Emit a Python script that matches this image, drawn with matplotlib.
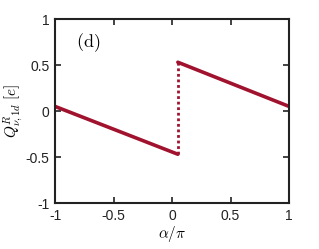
import matplotlib
matplotlib.use("Agg")
import matplotlib.pyplot as plt

plt.rcParams['mathtext.fontset'] = 'cm'
plt.rcParams['font.family'] = ['Liberation Sans', 'DejaVu Sans']

# data
left_x = [-1.0, 0.05]
left_y = [0.05, -0.47]
right_x = [0.05, 1.0]
right_y = [0.53, 0.05]
jump_x = [0.05, 0.05]
jump_y = [-0.47, 0.53]
xticks = [-1, -0.5, 0, 0.5, 1]
yticks = [-1, -0.5, 0, 0.5, 1]
xticklabels = ['-1', '-0.5', '0', '0.5', '1']
yticklabels = ['-1', '-0.5', '0', '0.5', '1']

color = '#A0122E'
fig = plt.figure(figsize=(3.19, 2.49), dpi=100)
ax = fig.add_axes([55/319, 1-203/249, 234/319, 184/249])
ax.plot(left_x, left_y, color=color, lw=2.6, solid_capstyle='round')
ax.plot(right_x, right_y, color=color, lw=2.6, solid_capstyle='round')
ax.plot(jump_x, jump_y, color=color, lw=2.0, linestyle=(0, (1, 1)))
ax.set_xlim(-1, 1)
ax.set_ylim(-1, 1)
ax.set_xticks(xticks)
ax.set_xticklabels(xticklabels)
ax.set_yticks(yticks)
ax.set_yticklabels(yticklabels)
ax.tick_params(direction='in', top=True, right=True, length=4, width=1.2,
               labelsize=10, colors='#222222', pad=4)
for s in ax.spines.values():
    s.set_linewidth(1.5)
    s.set_color('#222222')
ax.set_xlabel(r'$\alpha/\pi$', fontsize=11, labelpad=1)
fig.text(13/319, 1-111/249, r'$Q^{R}_{\nu,1d}\ [e]$', fontsize=11,
         rotation=90, ha='center', va='center')
ax.text(-0.72, 0.74, r'$\mathrm{(d)}$', fontsize=13, ha='center', va='center')
fig.savefig('out.png', dpi=100)
